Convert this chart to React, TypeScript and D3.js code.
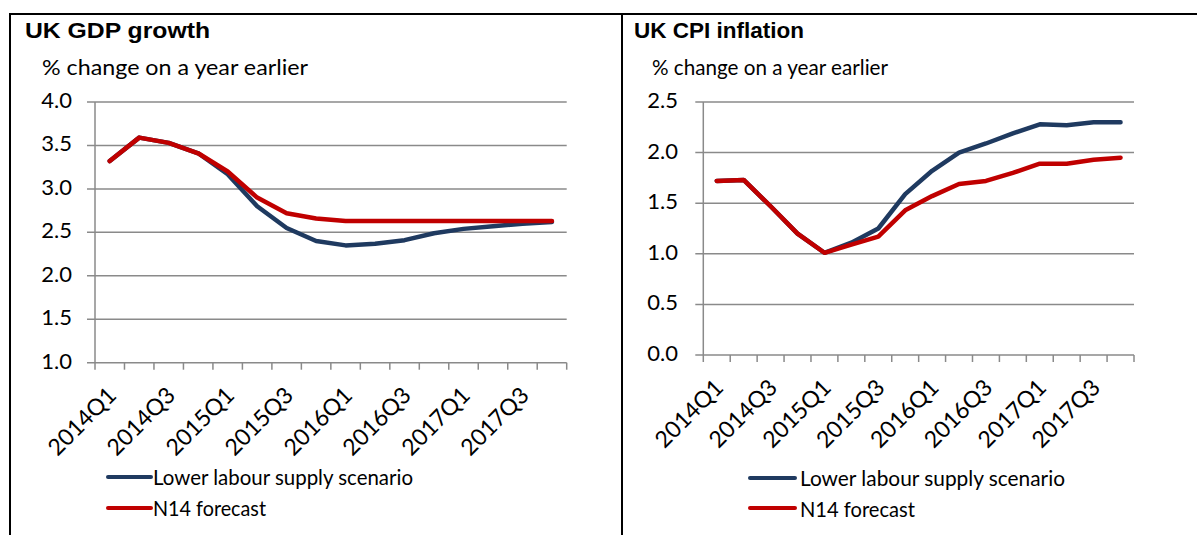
import React from "react";
import * as d3 from "d3";

const quarters = [
  "2014Q1","2014Q2","2014Q3","2014Q4",
  "2015Q1","2015Q2","2015Q3","2015Q4",
  "2016Q1","2016Q2","2016Q3","2016Q4",
  "2017Q1","2017Q2","2017Q3","2017Q4",
];

const gdpLower = [3.32,3.59,3.53,3.41,3.17,2.80,2.55,2.40,2.35,2.37,2.41,2.49,2.54,2.57,2.60,2.62];
const gdpN14 = [3.32,3.59,3.53,3.41,3.20,2.90,2.72,2.66,2.63,2.63,2.63,2.63,2.63,2.63,2.63,2.63];
const gdpTicks = [1.0,1.5,2.0,2.5,3.0,3.5,4.0];

const cpiLower = [1.72,1.73,1.47,1.20,1.01,1.11,1.25,1.59,1.82,2.00,2.09,2.19,2.28,2.27,2.30,2.30];
const cpiN14 = [1.72,1.73,1.47,1.20,1.01,1.09,1.17,1.43,1.57,1.69,1.72,1.80,1.89,1.89,1.93,1.95];
const cpiTicks = [0.0,0.5,1.0,1.5,2.0,2.5];

const seriesNames = ["Lower labour supply scenario", "N14 forecast"];

const NAVY = "#1F3A60";
const RED = "#C00000";
const GRID = "#8a8a8a";
const SANS = "Lato, 'Noto Sans', sans-serif";
const ARIAL = "'Liberation Sans', Arial, sans-serif";

type PanelProps = {
  title: string;
  titleLen: number;
  subtitleLen: number;
  titleX: number;
  subX: number;
  x0: number;
  x1: number;
  y0: number;
  y1: number;
  domain: [number, number];
  ticks: number[];
  lower: number[];
  n14: number[];
  tickLabelEnd: number;
  legendX0: number;
  legendX1: number;
  legendTextX: number;
  legendY: [number, number];
  legendBase: [number, number];
  legendLens: [number, number];
};

function Panel(p: PanelProps) {
  const x = d3.scaleBand<string>().domain(quarters).range([p.x0, p.x1]).padding(0);
  const y = d3.scaleLinear().domain(p.domain).range([p.y1, p.y0]);
  const cx = (q: string) => (x(q) as number) + x.bandwidth() / 2;
  const line = d3
    .line<number>()
    .x((_, i) => cx(quarters[i]))
    .y((v) => y(v));
  const boundaries = quarters.map((q) => x(q) as number).concat([p.x1]);
  const axisY = y(p.domain[0]);
  return (
    <g>
      <text x={p.titleX} y={38} fontFamily={ARIAL} fontWeight="bold" fontSize={22}
        textLength={p.titleLen} lengthAdjust="spacingAndGlyphs">{p.title}</text>
      <text x={p.subX} y={75} fontFamily={SANS} fontSize={22}
        textLength={p.subtitleLen} lengthAdjust="spacingAndGlyphs">% change on a year earlier</text>
      {p.ticks.map((t) => (
        <g key={t}>
          <line x1={p.x0 - 8} x2={p.x1} y1={y(t)} y2={y(t)} stroke={GRID} strokeWidth={1.5} />
          <text x={p.tickLabelEnd} y={y(t) + 6} textAnchor="end" fontFamily={SANS} fontSize={22}>
            {t.toFixed(1)}
          </text>
        </g>
      ))}
      <line x1={p.x0} x2={p.x0} y1={p.y0} y2={axisY} stroke={GRID} strokeWidth={1.5} />
      {boundaries.map((b, i) => (
        <line key={i} x1={b} x2={b} y1={axisY} y2={axisY + 7} stroke={GRID} strokeWidth={1.5} />
      ))}
      {quarters.map((q, i) =>
        i % 2 === 0 ? (
          <text key={q} transform={`translate(${cx(q) + 8},${axisY + 34}) rotate(-45)`}
            textAnchor="end" fontFamily={SANS} fontSize={23}>{q}</text>
        ) : null
      )}
      <path d={line(p.lower) || ""} fill="none" stroke={NAVY} strokeWidth={4.5}
        strokeLinejoin="round" strokeLinecap="round" />
      <path d={line(p.n14) || ""} fill="none" stroke={RED} strokeWidth={4.5}
        strokeLinejoin="round" strokeLinecap="round" />
      {[NAVY, RED].map((c, i) => (
        <g key={c}>
          <line x1={p.legendX0} x2={p.legendX1} y1={p.legendY[i]} y2={p.legendY[i]}
            stroke={c} strokeWidth={4} strokeLinecap="round" />
          <text x={p.legendTextX} y={p.legendBase[i]} fontFamily={SANS} fontSize={22}
            textLength={p.legendLens[i]} lengthAdjust="spacingAndGlyphs">{seriesNames[i]}</text>
        </g>
      ))}
    </g>
  );
}

export default function App() {
  return (
    <svg width={1197} height={535} style={{ position: "absolute", left: 0, top: 0, background: "#fff" }}>
      <rect x={0} y={0} width={1197} height={535} fill="#fff" />
      <line x1={9} x2={1197} y1={14} y2={14} stroke="#000" strokeWidth={2} />
      <line x1={10} x2={10} y1={13} y2={535} stroke="#000" strokeWidth={2} />
      <line x1={622} x2={622} y1={13} y2={535} stroke="#000" strokeWidth={2} />
      <Panel
        title="UK GDP growth" titleLen={185} subtitleLen={266} titleX={25} subX={42}
        x0={95} x1={566.7} y0={102} y1={362.7} domain={[1, 4]} ticks={gdpTicks}
        lower={gdpLower} n14={gdpN14} tickLabelEnd={72}
        legendX0={108} legendX1={151} legendTextX={153} legendY={[477, 508]}
        legendBase={[485, 516]} legendLens={[260, 113]}
      />
      <Panel
        title="UK CPI inflation" titleLen={170} subtitleLen={236} titleX={634} subX={652}
        x0={703.3} x1={1134} y0={102} y1={355} domain={[0, 2.5]} ticks={cpiTicks}
        lower={cpiLower} n14={cpiN14} tickLabelEnd={678}
        legendX0={750} legendX1={795} legendTextX={800} legendY={[478, 508]}
        legendBase={[486, 517]} legendLens={[265, 115]}
      />
    </svg>
  );
}
